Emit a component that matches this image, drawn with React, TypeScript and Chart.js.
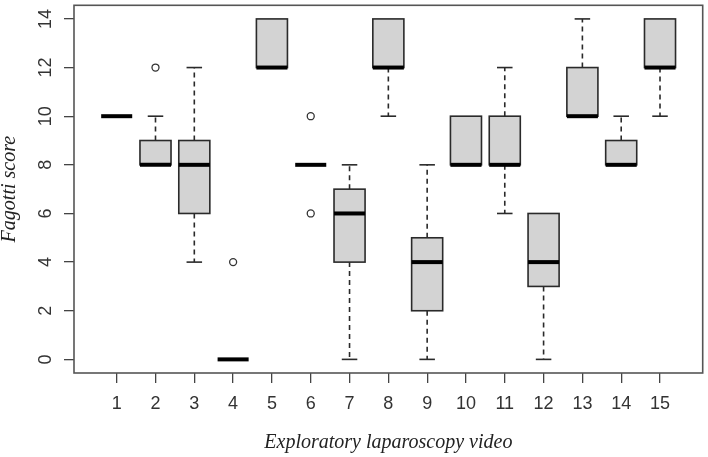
import React, { useEffect, useRef } from "react";
import { Chart, registerables } from "chart.js";

Chart.register(...registerables);

// ---- data ----
const categories = ["1", "2", "3", "4", "5", "6", "7", "8", "9", "10", "11", "12", "13", "14", "15"];
const videoPositions = [1, 2, 3, 4, 5, 6, 7, 8, 9, 10, 11, 12, 13, 14, 15];
const lowerWhisker = [10, 8, 4, 0, 12, 8, 0, 10, 0, 8, 6, 0, 10, 8, 10];
const q1 = [10, 8, 6, 0, 12, 8, 4, 12, 2, 8, 8, 3, 10, 8, 12];
const median = [10, 8, 8, 0, 12, 8, 6, 12, 4, 8, 8, 4, 10, 8, 12];
const q3 = [10, 9, 9, 0, 14, 8, 7, 14, 5, 10, 10, 6, 12, 9, 14];
const upperWhisker = [10, 10, 12, 0, 14, 8, 8, 14, 8, 10, 12, 6, 14, 10, 14];
const outlierVideo = [2, 4, 6, 6];
const outlierScore = [12, 4, 10, 6];
const yTicks = [0, 2, 4, 6, 8, 10, 12, 14];

const BOX_HALF = 0.4;
const CAP_HALF = 0.2;

const boxPlugin = {
  id: "boxes",
  beforeDatasetsDraw(chart: any) {
    const ctx = chart.ctx;
    const xs = chart.scales.x;
    const ys = chart.scales.y;
    ctx.save();
    for (let i = 0; i < videoPositions.length; i++) {
      const p = videoPositions[i];
      const cx = xs.getPixelForValue(p);
      const bl = xs.getPixelForValue(p - BOX_HALF);
      const br = xs.getPixelForValue(p + BOX_HALF);
      const cl = xs.getPixelForValue(p - CAP_HALF);
      const cr = xs.getPixelForValue(p + CAP_HALF);
      const yQ1 = ys.getPixelForValue(q1[i]);
      const yQ3 = ys.getPixelForValue(q3[i]);
      const yMed = ys.getPixelForValue(median[i]);
      const yLo = ys.getPixelForValue(lowerWhisker[i]);
      const yHi = ys.getPixelForValue(upperWhisker[i]);
      ctx.strokeStyle = "#2a2a2a";
      ctx.lineWidth = 1.6;
      // whiskers
      if (upperWhisker[i] > q3[i]) {
        ctx.setLineDash([5, 4]);
        ctx.beginPath();
        ctx.moveTo(cx, yQ3);
        ctx.lineTo(cx, yHi);
        ctx.stroke();
        ctx.setLineDash([]);
        ctx.beginPath();
        ctx.moveTo(cl, yHi);
        ctx.lineTo(cr, yHi);
        ctx.stroke();
      }
      if (lowerWhisker[i] < q1[i]) {
        ctx.setLineDash([5, 4]);
        ctx.beginPath();
        ctx.moveTo(cx, yQ1);
        ctx.lineTo(cx, yLo);
        ctx.stroke();
        ctx.setLineDash([]);
        ctx.beginPath();
        ctx.moveTo(cl, yLo);
        ctx.lineTo(cr, yLo);
        ctx.stroke();
      }
      // box
      if (q3[i] > q1[i]) {
        ctx.fillStyle = "#d3d3d3";
        ctx.fillRect(bl, yQ3, br - bl, yQ1 - yQ3);
        ctx.strokeRect(bl, yQ3, br - bl, yQ1 - yQ3);
      }
      // median
      ctx.strokeStyle = "#000";
      ctx.lineWidth = 4;
      ctx.lineCap = "butt";
      ctx.beginPath();
      ctx.moveTo(bl, yMed);
      ctx.lineTo(br, yMed);
      ctx.stroke();
    }
    ctx.restore();
  },
  afterDraw(chart: any) {
    const { ctx, chartArea } = chart;
    ctx.save();
    ctx.strokeStyle = "#555";
    ctx.lineWidth = 1.6;
    ctx.strokeRect(chartArea.left, chartArea.top, chartArea.right - chartArea.left, chartArea.bottom - chartArea.top);
    ctx.restore();
  },
};

export default function App() {
  const ref = useRef<HTMLCanvasElement | null>(null);
  useEffect(() => {
    document.body.style.margin = "0";
    if (!ref.current) return;
    const chart = new Chart(ref.current, {
      type: "scatter",
      data: {
        datasets: [
          {
            label: "outliers",
            data: outlierVideo.map((v, i) => ({ x: v, y: outlierScore[i] })),
            pointStyle: "circle",
            pointRadius: 3.5,
            pointBorderWidth: 1.3,
            borderColor: "#333",
            backgroundColor: "rgba(255,255,255,0)",
          },
        ],
      },
      options: {
        animation: false,
        responsive: false,
        layout: { padding: { left: 0, top: 5, right: 3, bottom: 0 } },
        plugins: { legend: { display: false }, tooltip: { enabled: false } },
        scales: {
          x: {
            type: "linear",
            min: -0.1,
            max: 16.1,
            afterBuildTicks: (s: any) => {
              s.ticks = videoPositions.map((v) => ({ value: v }));
            },
            afterFit: (s: any) => {
              s.height = 84;
              s.paddingLeft = 0;
              s.paddingRight = 0;
            },
            ticks: {
              autoSkip: false,
              maxRotation: 0,
              minRotation: 0,
              padding: 10,
              color: "#333",
              font: { family: "Liberation Sans", size: 18 },
              callback: (v: any) => categories[videoPositions.indexOf(Number(v))] ?? "",
            },
            grid: { drawOnChartArea: false, drawTicks: true, tickLength: 10, color: "#444", lineWidth: 1.3 },
            border: { display: false },
            title: {
              display: true,
              text: "Exploratory laparoscopy video",
              color: "#222",
              font: { family: "Liberation Serif", size: 20, style: "italic", lineHeight: 1.2 },
              padding: { top: 0, bottom: 2 },
            },
          },
          y: {
            type: "linear",
            min: -0.56,
            max: 14.56,
            afterBuildTicks: (s: any) => {
              s.ticks = yTicks.map((v) => ({ value: v }));
            },
            afterFit: (s: any) => {
              s.width = 74;
              s.paddingTop = 0;
              s.paddingBottom = 0;
            },
            ticks: {
              minRotation: 90,
              maxRotation: 90,
              crossAlign: "center",
              padding: 8,
              color: "#333",
              font: { family: "Liberation Sans", size: 18 },
              callback: (v: any) => String(v),
            },
            grid: { drawOnChartArea: false, drawTicks: true, tickLength: 10, color: "#444", lineWidth: 1.3 },
            border: { display: false },
            title: {
              display: true,
              text: "Fagotti score",
              color: "#222",
              font: { family: "Liberation Serif", size: 20, style: "italic", lineHeight: 1 },
              padding: { top: 0, bottom: 0 },
            },
          },
        },
      },
      plugins: [boxPlugin],
    });
    return () => chart.destroy();
  }, []);
  return (
    <div style={{ width: 708, height: 457 }}>
      <canvas ref={ref} width={708} height={457} style={{ display: "block" }} />
    </div>
  );
}
